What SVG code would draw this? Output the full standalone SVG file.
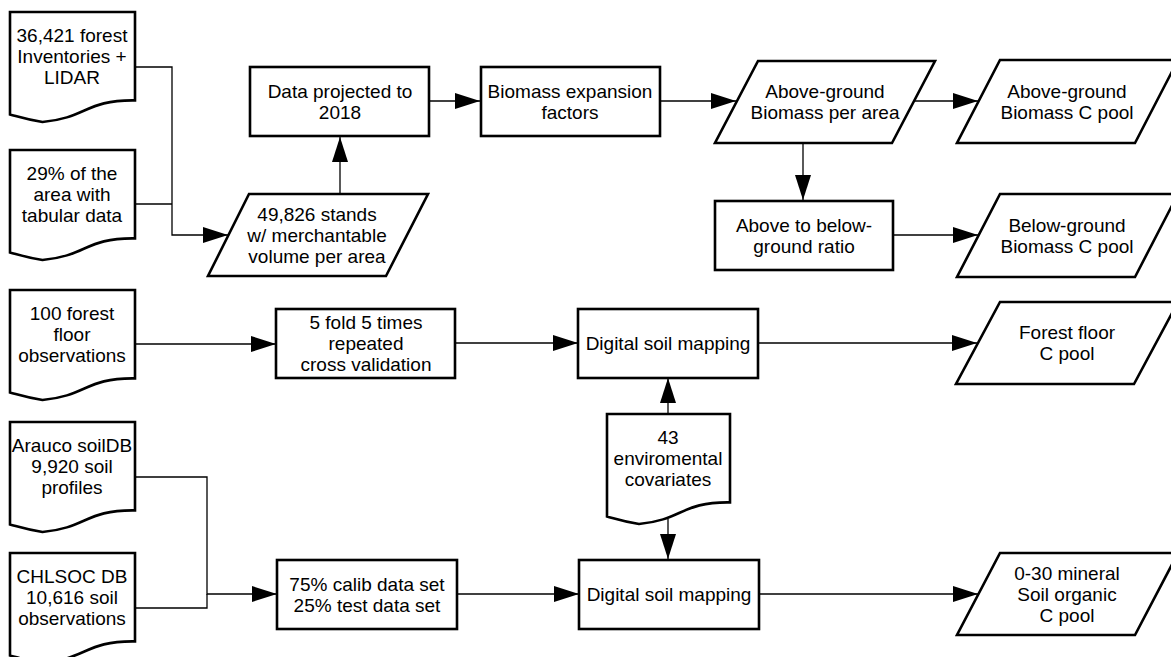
<svg xmlns="http://www.w3.org/2000/svg" width="1171" height="657" viewBox="0 0 1171 657">
<style>
.s{fill:#fff;stroke:#000;stroke-width:2.6;stroke-linejoin:miter}
.c{fill:none;stroke:#000;stroke-width:1.3}
text{font-family:"Liberation Sans",Arial,sans-serif;font-size:19px;fill:#000;text-anchor:middle}
</style>
<defs>
<marker id="ah" markerUnits="userSpaceOnUse" markerWidth="26" markerHeight="17" refX="25" refY="8" orient="auto">
<path d="M0,0 L25,8 L0,16 Z" fill="#000"/>
</marker>
</defs>
<rect width="1171" height="657" fill="#fff"/>
<g id="connectors">
<path class="c" d="M135,67 H172 V235 H228" marker-end="url(#ah)"/>
<path class="c" d="M135,204 H172"/>
<path class="c" d="M340,194 V137" marker-end="url(#ah)"/>
<path class="c" d="M429,101 H480" marker-end="url(#ah)"/>
<path class="c" d="M660,101 H736" marker-end="url(#ah)"/>
<path class="c" d="M914,101 H978" marker-end="url(#ah)"/>
<path class="c" d="M803,143 V200" marker-end="url(#ah)"/>
<path class="c" d="M893,235 H978" marker-end="url(#ah)"/>
<path class="c" d="M135,344 H276" marker-end="url(#ah)"/>
<path class="c" d="M455,343 H578" marker-end="url(#ah)"/>
<path class="c" d="M758,343 H977" marker-end="url(#ah)"/>
<path class="c" d="M668,414 V378" marker-end="url(#ah)"/>
<path class="c" d="M668,519 V559" marker-end="url(#ah)"/>
<path class="c" d="M135,477 H207 V594 H277" marker-end="url(#ah)"/>
<path class="c" d="M135,608 H207 V594"/>
<path class="c" d="M457,594 H579" marker-end="url(#ah)"/>
<path class="c" d="M759,594 H978" marker-end="url(#ah)"/>
</g>
<g id="n_inventories">
<path class="s" d="M10,12 H135 V100.4 C85.5,99.7 87.2,117.8 42.5,122 C26.5,119.5 20.7,117.4 10,114.5 Z"/>
<text x="72" y="42">36,421 forest</text>
<text x="72" y="63">Inventories +</text>
<text x="72" y="84">LIDAR</text>
</g>
<g id="n_tabular">
<path class="s" d="M10,150 H135 V238.4 C85.5,237.7 87.2,255.8 42.5,260 C26.5,257.5 20.7,255.4 10,252.5 Z"/>
<text x="72" y="179.5">29% of the</text>
<text x="72" y="200.5">area with</text>
<text x="72" y="221.5">tabular data</text>
</g>
<g id="n_stands">
<path class="s" d="M249,194 H428 L386,276 H208 Z"/>
<text x="317" y="220.5">49,826 stands</text>
<text x="317" y="241.5">w/ merchantable</text>
<text x="317" y="262.5">volume per area</text>
</g>
<g id="n_projected">
<rect class="s" x="250" y="67" width="179" height="69"/>
<text x="340" y="97.5">Data projected to</text>
<text x="340" y="118.5">2018</text>
</g>
<g id="n_bef">
<rect class="s" x="481" y="67" width="179" height="69"/>
<text x="570" y="97.5">Biomass expansion</text>
<text x="570" y="118.5">factors</text>
</g>
<g id="n_agb_area">
<path class="s" d="M758,61 H935 L892,143 H715 Z"/>
<text x="825" y="97.5">Above-ground</text>
<text x="825" y="118.5">Biomass per area</text>
</g>
<g id="n_agb_pool">
<path class="s" d="M1000,60 H1178 L1135,143 H957 Z"/>
<text x="1067" y="97.5">Above-ground</text>
<text x="1067" y="118.5">Biomass C pool</text>
</g>
<g id="n_ratio">
<rect class="s" x="715" y="201" width="178" height="69"/>
<text x="804" y="231.5">Above to below-</text>
<text x="804" y="252.5">ground ratio</text>
</g>
<g id="n_bgb_pool">
<path class="s" d="M1000,194 H1178 L1135,277 H957 Z"/>
<text x="1067" y="231.5">Below-ground</text>
<text x="1067" y="252.5">Biomass C pool</text>
</g>
<g id="n_floor_obs">
<path class="s" d="M10,290 H135 V378.4 C85.5,377.7 87.2,395.8 42.5,400 C26.5,397.5 20.7,395.4 10,392.5 Z"/>
<text x="72" y="319.5">100 forest</text>
<text x="72" y="340.5">floor</text>
<text x="72" y="361.5">observations</text>
</g>
<g id="n_cv">
<rect class="s" x="276" y="309" width="179" height="69"/>
<text x="366" y="329">5 fold 5 times</text>
<text x="366" y="350">repeated</text>
<text x="366" y="371">cross validation</text>
</g>
<g id="n_dsm1">
<rect class="s" x="578" y="309" width="180" height="69"/>
<text x="668" y="350">Digital soil mapping</text>
</g>
<g id="n_floor_pool">
<path class="s" d="M1000,302 H1178 L1134,384 H956 Z"/>
<text x="1067" y="338.5">Forest floor</text>
<text x="1067" y="359.5">C pool</text>
</g>
<g id="n_covariates">
<path class="s" d="M607,414 H730 V502.4 C681.3,501.7 683,519.8 639,524 C623.3,521.5 617.5,519.4 607,516.5 Z"/>
<text x="668" y="443.5">43</text>
<text x="668" y="464.5">enviromental</text>
<text x="668" y="485.5">covariates</text>
</g>
<g id="n_arauco">
<path class="s" d="M10,422 H135 V510.4 C85.5,509.7 87.2,527.8 42.5,532 C26.5,529.5 20.7,527.4 10,524.5 Z"/>
<text x="72" y="451.5">Arauco soilDB</text>
<text x="72" y="472.5">9,920 soil</text>
<text x="72" y="493.5">profiles</text>
</g>
<g id="n_chlsoc">
<path class="s" d="M10,553 H135 V641.4 C85.5,640.7 87.2,658.8 42.5,663 C26.5,660.5 20.7,658.4 10,655.5 Z"/>
<text x="72" y="582.5">CHLSOC DB</text>
<text x="72" y="603.5">10,616 soil</text>
<text x="72" y="624.5">observations</text>
</g>
<g id="n_split">
<rect class="s" x="277" y="560" width="180" height="69"/>
<text x="367" y="590.5">75% calib data set</text>
<text x="367" y="611.5">25% test data set</text>
</g>
<g id="n_dsm2">
<rect class="s" x="579" y="560" width="180" height="69"/>
<text x="669" y="601">Digital soil mapping</text>
</g>
<g id="n_soc_pool">
<path class="s" d="M1000,553 H1178 L1135,635 H957 Z"/>
<text x="1067" y="579.5">0-30 mineral</text>
<text x="1067" y="600.5">Soil organic</text>
<text x="1067" y="621.5">C pool</text>
</g>
</svg>
